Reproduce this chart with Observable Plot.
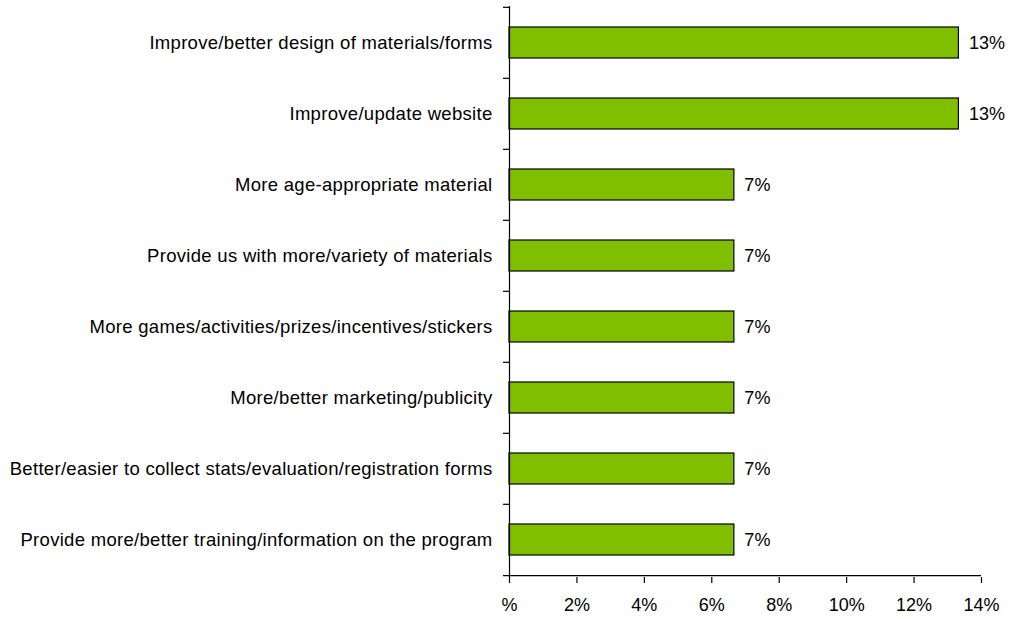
<!DOCTYPE html>
<html>
<head>
<meta charset="utf-8">
<script src="https://cdn.jsdelivr.net/npm/d3@7"></script>
<script src="https://cdn.jsdelivr.net/npm/@observablehq/plot@0.6"></script>
<style>
  html, body { margin: 0; padding: 0; background: #fff; }
  g[aria-label="y-axis tick label"] text { letter-spacing: 0.3px; }
</style>
</head>
<body>
<div id="chart"></div>
<script>
const categories = [
  "Improve/better design of materials/forms",
  "Improve/update website",
  "More age-appropriate material",
  "Provide us with more/variety of materials",
  "More games/activities/prizes/incentives/stickers",
  "More/better marketing/publicity",
  "Better/easier to collect stats/evaluation/registration forms",
  "Provide more/better training/information on the program"
];
const values = [13.33, 13.33, 6.67, 6.67, 6.67, 6.67, 6.67, 6.67];
const xTicks = [0, 2, 4, 6, 8, 10, 12, 14];

const data = categories.map((c, i) => ({label: c, value: values[i]}));

const W = 1015, H = 619;
const mT = 6, mB = 42, mL = 509, mR = 34;
const step = (H - mT - mB) / categories.length;
const pxPerUnit = (W - mL - mR) / 14;
const tickLen = 6 / pxPerUnit;

const chart = Plot.plot({
  width: W,
  height: H,
  marginTop: mT,
  marginBottom: mB,
  marginLeft: mL,
  marginRight: mR,
  style: {fontFamily: "'Liberation Sans', Arial, sans-serif", color: "#000", background: "#fff"},
  x: {domain: [0, 14], ticks: xTicks},
  y: {domain: categories, paddingInner: 0.56, paddingOuter: 0.28},
  marks: [
    Plot.barX(data, {x: "value", y: "label", fill: "#7fbf00", stroke: "#000", strokeWidth: 1.2}),
    Plot.text(data, {x: "value", y: "label", text: d => Math.round(d.value) + "%", textAnchor: "start", dx: 10, fontSize: 18, fill: "#000"}),
    Plot.ruleX([0], {stroke: "#000", strokeWidth: 1.2}),
    Plot.ruleY(categories, {y: d => d, x1: -tickLen, x2: 0, dy: -step / 2, stroke: "#000", strokeWidth: 1.2}),
    Plot.ruleY([categories[categories.length - 1]], {y: d => d, x1: -tickLen, x2: 14, dy: step / 2, stroke: "#000", strokeWidth: 1.2}),
    Plot.axisY({tickSize: 0, tickPadding: 17, fontSize: 18.5, label: null}),
    Plot.axisX({ticks: xTicks, tickSize: 6, tickPadding: 15, fontSize: 18, label: null, strokeWidth: 1.2,
      tickFormat: d => d === 0 ? "%" : d + "%"})
  ]
});
document.getElementById("chart").appendChild(chart);
</script>
</body>
</html>
